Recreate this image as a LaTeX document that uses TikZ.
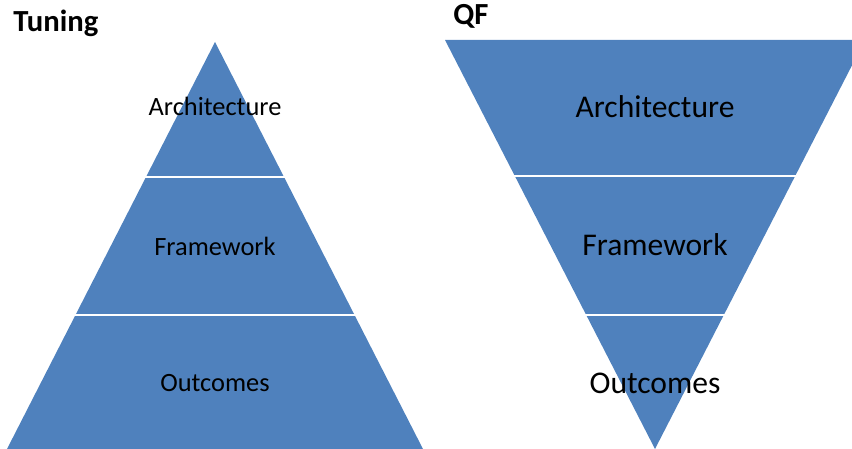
\documentclass[tikz,border=0pt]{standalone}
\usepackage{fontspec}
\setmainfont{Carlito}
\usetikzlibrary{positioning}
\definecolor{bandblue}{HTML}{4F81BD}
\tikzstyle{band} = [fill=bandblue, draw=none]
\tikzstyle{gap} = [draw=white, line width=2.2pt]
\tikzstyle{livello} = [text=black, font=\fontsize{19.8}{23}\selectfont]
\tikzstyle{livellogrande} = [text=black, font=\fontsize{23.7}{28}\selectfont]
\tikzstyle{titolo} = [anchor=base west, inner sep=0pt, font=\fontsize{23}{27}\selectfont\bfseries]

\begin{document}
\begin{tikzpicture}[x=0.75pt,y=-0.75pt]
	\useasboundingbox (0,0) rectangle (852,449);
	\clip (0,0) rectangle (852,449);
	% piramide
	\fill[band] (215,42) -- (7,449) -- (423,449) -- cycle;
	\draw[gap] (100,177) -- (330,177);
	\draw[gap] (40,315) -- (390,315);
	% piramide rovesciata
	\fill[band] (445,40) -- (865,40) -- (655,449) -- cycle;
	\draw[gap] (480,176) -- (830,176);
	\draw[gap] (560,315) -- (750,315);
	\node (t1) at (13,32) [titolo] {Tuning};
	\node (t2) at (453,25) [titolo] {QF};
	\node (a1) at (215,106) [livello] {Architecture};
	\node (f1) at (215,246) [livello] {Framework};
	\node (o1) at (215,383) [livello] {Outcomes};
	\node (a2) at (655,107) [livellogrande] {Architecture};
	\node (f2) at (655,245) [livellogrande] {Framework};
	\node (o2) at (655,383) [livellogrande] {Outcomes};
\end{tikzpicture}
\end{document}
